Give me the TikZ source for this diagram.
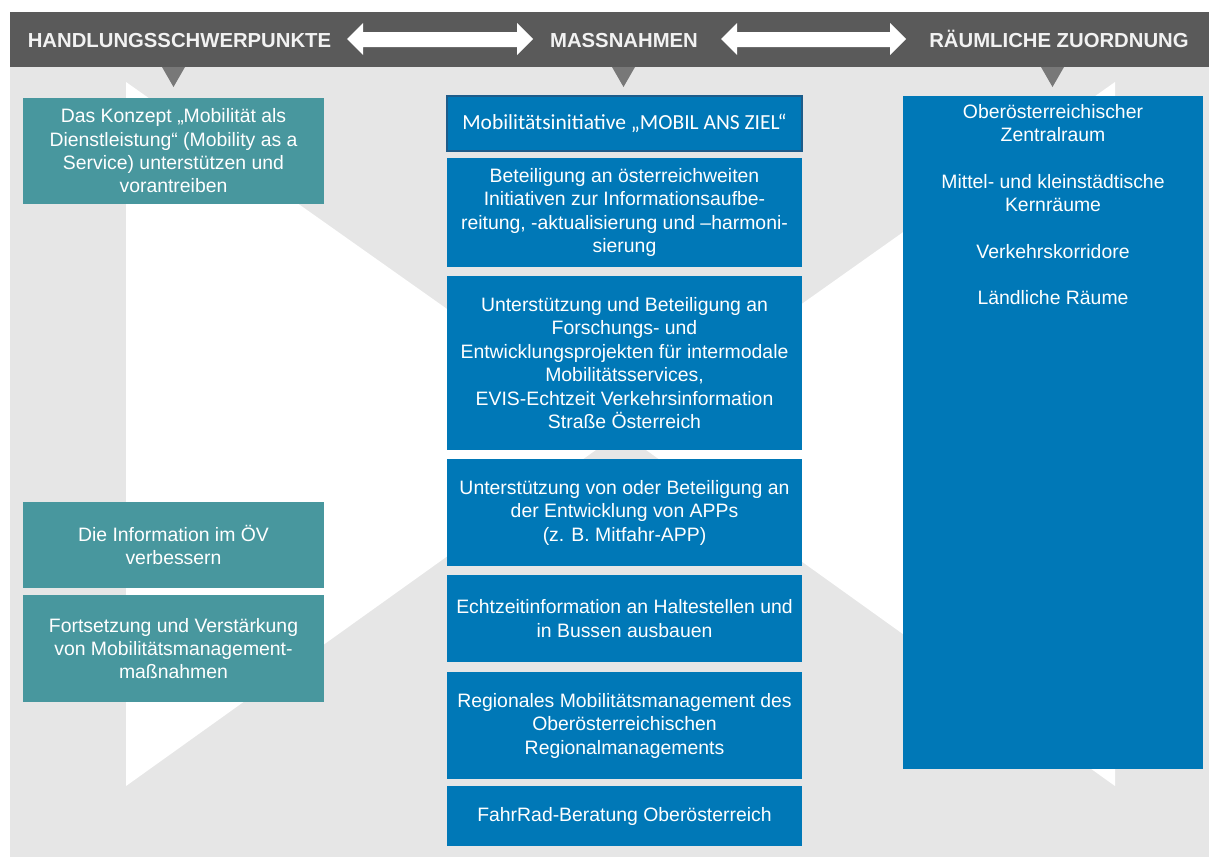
\documentclass[tikz,border=0pt]{standalone}
\usepackage{fontspec}
\setmainfont{Liberation Sans}
\newfontfamily\carlito{Carlito}
\definecolor{hdr}{HTML}{5A5A5A}
\definecolor{bgl}{HTML}{E6E6E6}
\definecolor{ptr}{HTML}{787878}
\definecolor{teal}{HTML}{48979E}
\definecolor{mblue}{HTML}{0078B7}
\definecolor{bord}{HTML}{1E5C8A}
\definecolor{htxt}{HTML}{F2F2F2}
\begin{document}
\begin{tikzpicture}[x=1pt,y=-1pt,
  every node/.style={inner sep=0pt, outer sep=0pt},
  hlabel/.style={font=\fontsize{20.3}{24}\selectfont\bfseries, text=htxt, anchor=base},
  tbox/.style={fill=teal, text=white, align=center, minimum width=301pt,
    font=\fontsize{19.4}{23.3}\selectfont},
  mbox/.style={fill=mblue, text=white, align=center, minimum width=355pt,
    font=\fontsize{19.4}{23.5}\selectfont},
  rtxt/.style={text=white, align=center, font=\fontsize{19.4}{23.3}\selectfont}]
\useasboundingbox (0,0) rectangle (1209,857);
\fill[white] (0,0) rectangle (1209,857);
% backgrounds
\fill[hdr] (10,12) rectangle (1209,67);
\fill[bgl] (10,67) rectangle (1209,857);
\fill[white] (126,82) -- (621,432) -- (126,786) -- cycle;
\fill[white] (1115,82) -- (621,432) -- (1115,786) -- cycle;
% pointers
\fill[ptr] (162,67) -- (185,67) -- (173.5,87) -- cycle;
\fill[ptr] (612,67) -- (635,67) -- (623.5,87) -- cycle;
\fill[ptr] (1041,67) -- (1064,67) -- (1052.5,87) -- cycle;
% header double arrows
\fill[white] (347,39) -- (363,23) -- (363,32) -- (517,32) -- (517,23) -- (533,39)
  -- (517,55) -- (517,47) -- (363,47) -- (363,55) -- cycle;
\fill[white] (721,39) -- (737,23) -- (737,32) -- (890,32) -- (890,23) -- (906,39)
  -- (890,55) -- (890,47) -- (737,47) -- (737,55) -- cycle;
% header labels
\node[hlabel] (h1) at (179.5,47) {HANDLUNGSSCHWERPUNKTE};
\node[hlabel] (h2) at (624,47) {MASSNAHMEN};
\node[hlabel] (h3) at (1059,47) {RÄUMLICHE ZUORDNUNG};
% left boxes
\node[tbox, minimum height=106pt] (l1) at (173.5,151) {Das Konzept „Mobilität als\\Dienstleistung“ (Mobility as a\\Service) unterstützen und\\vorantreiben};
\node[tbox, minimum height=86pt] (l2) at (173.5,545) {Die Information im ÖV\\verbessern};
\node[tbox, minimum height=107pt] (l3) at (173.5,648.5) {Fortsetzung und Verstärkung\\von Mobilitätsmanagement-\\maßnahmen};
% middle boxes
\node[mbox, minimum height=55pt, draw=bord, line width=1.5pt, font=\carlito\fontsize{21.5}{25}\selectfont] (m1) at (624.5,123.5) {Mobilitätsinitiative „MOBIL ANS ZIEL“};
\node[mbox, minimum height=109pt] (m2) at (624.5,212.5) {Beteiligung an österreichweiten\\Initiativen zur Informationsaufbe-\\reitung, -aktualisierung und –harmoni-\\sierung};
\node[mbox, minimum height=174pt] (m3) at (624.5,363) {Unterstützung und Beteiligung an\\Forschungs- und\\Entwicklungsprojekten für intermodale\\Mobilitätsservices,\\EVIS-Echtzeit Verkehrsinformation\\Straße Österreich};
\node[mbox, minimum height=107pt] (m4) at (624.5,512.5) {Unterstützung von oder Beteiligung an\\der Entwicklung von APPs\\(z. B. Mitfahr-APP)};
\node[mbox, minimum height=87pt] (m5) at (624.5,618.5) {Echtzeitinformation an Haltestellen und\\in Bussen ausbauen};
\node[mbox, minimum height=107pt] (m6) at (624.5,725.5) {Regionales Mobilitätsmanagement des\\Oberösterreichischen\\Regionalmanagements};
\node[mbox, minimum height=60pt] (m7) at (624.5,816) {FahrRad-Beratung Oberösterreich};
% right box
\node[fill=mblue, minimum width=300pt, minimum height=673pt] (r) at (1053,432.5) {};
\node[rtxt, anchor=north] (rt) at (1053,104.5) {Oberösterreichischer\\Zentralraum\\[23.3pt]Mittel- und kleinstädtische\\Kernräume\\[23.3pt]Verkehrskorridore\\[23.3pt]Ländliche Räume};
\end{tikzpicture}
\end{document}
